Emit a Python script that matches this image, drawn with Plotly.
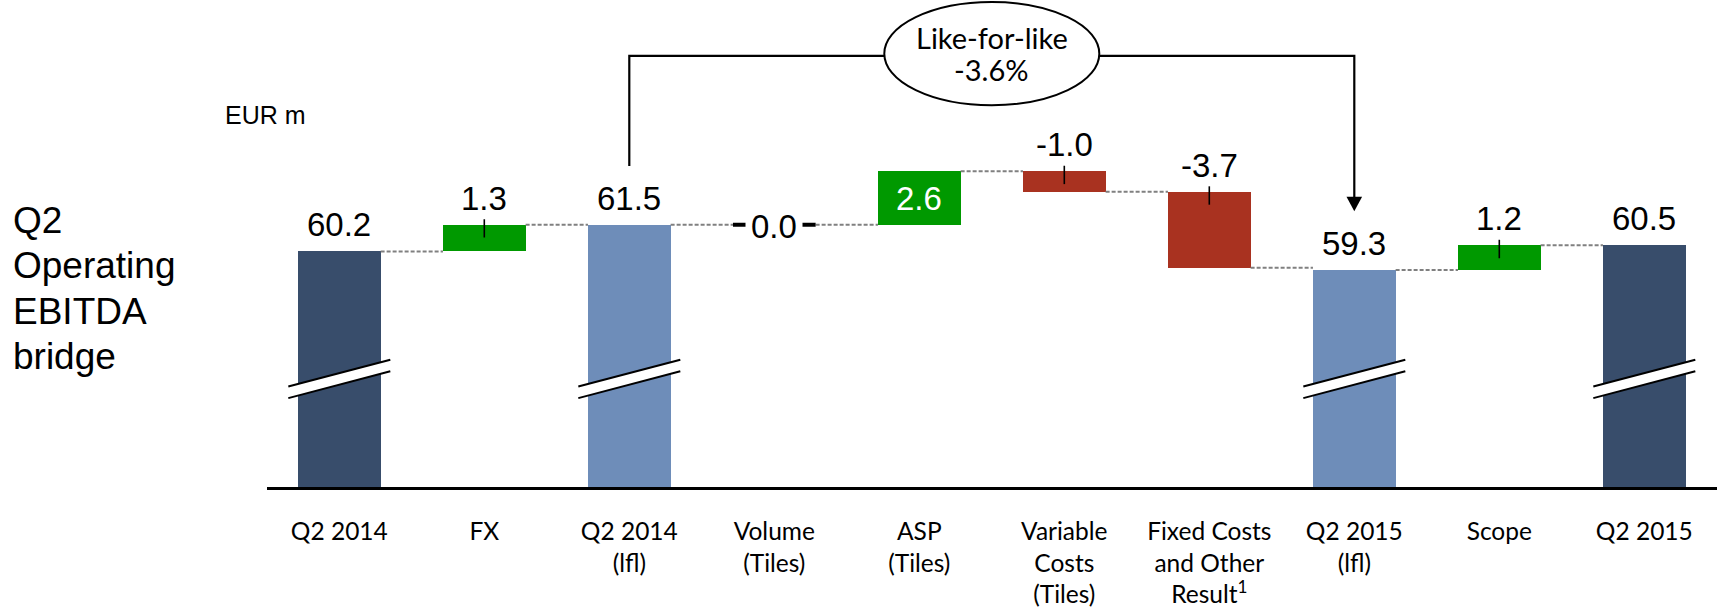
import plotly.graph_objects as go

# ---- data -------------------------------------------------------------
categories = [
    "Q2 2014", "FX", "Q2 2014<br>(lfl)", "Volume<br>(Tiles)", "ASP<br>(Tiles)",
    "Variable<br>Costs<br>(Tiles)", "Fixed Costs<br>and Other<br>Result<sup>1</sup>",
    "Q2 2015<br>(lfl)", "Scope", "Q2 2015",
]
values = [60.2, 1.3, 61.5, 0.0, 2.6, -1.0, -3.7, 59.3, 1.2, 60.5]
kinds = ["total", "delta", "lfl", "delta", "delta", "delta", "delta", "lfl", "delta", "total"]
lfl_change_pct = -3.6
unit_label = "EUR m"
title_lines = ["Q2", "Operating", "EBITDA", "bridge"]
bracket_label = "Like-for-like"

# ---- layout constants -------------------------------------------------
W, H = 1718, 608
PLOT_L, PLOT_R = 266.8, 1716.8        # px extent of the category axis
AXIS_Y = 490.5                         # px row of the category axis line
Y_MIN = 48.73                          # broken value axis starts here
PX_PER_UNIT = 20.7
Y_MAX = Y_MIN + AXIS_Y / PX_PER_UNIT
BAR_W = 0.57
HW = BAR_W / 2
CAT_PX = (PLOT_R - PLOT_L) / len(categories)

COL_TOTAL = "#384D6B"
COL_LFL = "#6E8DB9"
COL_POS = "#009900"
COL_NEG = "#A93220"

VAL_FONT = dict(family="Arial, Liberation Sans, sans-serif", size=33, color="black")
CAT_FONT = dict(family="Lato, Open Sans, sans-serif", size=24.5, color="black")


def px(x):
    return x / W


def py(y):
    return 1 - y / H


def units(pixels):
    return pixels / PX_PER_UNIT


# ---- waterfall geometry ----------------------------------------------
bases, heights, colors, label_levels, end_levels = [], [], [], [], []
level = 0.0
for v, k in zip(values, kinds):
    if k in ("total", "lfl"):
        bases.append(0.0)
        heights.append(v)
        colors.append(COL_TOTAL if k == "total" else COL_LFL)
        label_levels.append(v)
        level = v
    else:
        bases.append(level)
        heights.append(v)
        colors.append(COL_POS if v >= 0 else COL_NEG)
        label_levels.append(max(level, level + v))
        level = level + v
    end_levels.append(level)

idx = list(range(len(categories)))

fig = go.Figure()

fig.add_trace(go.Bar(
    x=idx, y=heights, base=bases, width=BAR_W,
    marker=dict(color=colors, line=dict(width=0)),
    hoverinfo="skip", showlegend=False,
))

# dashed connectors between neighbouring bars
cx, cy = [], []
for i in range(len(categories) - 1):
    cx += [i + HW, i + 1 - HW, None]
    cy += [end_levels[i], end_levels[i], None]
fig.add_trace(go.Scatter(
    x=cx, y=cy, mode="lines",
    line=dict(color="#808080", width=2, dash="4px,2px"),
    hoverinfo="skip", showlegend=False,
))

shapes = []
annotations = []

# labels, leader ticks and zero markers
tx, ty = [], []
for i, (v, k) in enumerate(zip(values, kinds)):
    text = f"{v:.1f}"
    if k == "delta" and v == 0:
        shapes.append(dict(type="line", xref="x", yref="y",
                           x0=i - HW, x1=i + HW, y0=bases[i], y1=bases[i],
                           line=dict(color="black", width=4), layer="above"))
        annotations.append(dict(x=i, y=bases[i], xref="x", yref="y", text=text,
                                showarrow=False, yanchor="middle", yshift=-2,
                                bgcolor="white", borderpad=5, font=VAL_FONT))
    elif k == "delta" and v >= 2.0:
        annotations.append(dict(x=i, y=bases[i] + v / 2, xref="x", yref="y", text=text,
                                showarrow=False, yanchor="middle", yshift=-1,
                                font=dict(VAL_FONT, color="white")))
    else:
        annotations.append(dict(x=i, y=label_levels[i], xref="x", yref="y", text=text,
                                showarrow=False, yanchor="bottom", yshift=6,
                                font=VAL_FONT))
        if k == "delta":
            top = label_levels[i]
            tx += [i, i, None]
            ty += [top + units(5.5), top - units(13), None]

fig.add_trace(go.Scatter(
    x=tx, y=ty, mode="lines", line=dict(color="black", width=1.6),
    hoverinfo="skip", showlegend=False,
))

# axis-break marks on the full bars
BREAK_Y = 54.0
bdx = 51 / CAT_PX
rise = units(13.5)
gap = units(5.85)
for i, k in enumerate(kinds):
    if k not in ("total", "lfl"):
        continue
    x0, x1 = i - bdx, i + bdx
    shapes.append(dict(
        type="path", xref="x", yref="y", layer="above",
        path=(f"M {x0},{BREAK_Y - gap - rise} L {x1},{BREAK_Y - gap + rise} "
              f"L {x1},{BREAK_Y + gap + rise} L {x0},{BREAK_Y + gap - rise} Z"),
        fillcolor="white", line=dict(width=0),
    ))
    for s in (-1, 1):
        shapes.append(dict(
            type="line", xref="x", yref="y", layer="above",
            x0=x0, y0=BREAK_Y + s * gap - rise, x1=x1, y1=BREAK_Y + s * gap + rise,
            line=dict(color="black", width=2),
        ))

# like-for-like bracket from Q2 2014 (lfl) to Q2 2015 (lfl)
i_from = kinds.index("lfl")
i_to = len(kinds) - 1 - kinds[::-1].index("lfl")
BRACKET_Y = 56.2
shapes.append(dict(
    type="path", xref="x", yref="paper", layer="above",
    path=(f"M {i_from},{py(167)} L {i_from},{py(BRACKET_Y)} "
          f"L {i_to},{py(BRACKET_Y)} L {i_to},{py(200)}"),
    line=dict(color="black", width=2.2),
))
head = 7.8 / CAT_PX
shapes.append(dict(
    type="path", xref="x", yref="paper", layer="above",
    path=(f"M {i_to - head},{py(198)} L {i_to + head},{py(198)} "
          f"L {i_to},{py(212.7)} Z"),
    fillcolor="black", line=dict(width=0),
))
ell_c = 4.5
ell_hw = 107.5 / CAT_PX
shapes.append(dict(
    type="circle", xref="x", yref="paper", layer="above",
    x0=ell_c - ell_hw, x1=ell_c + ell_hw, y0=py(106), y1=py(2),
    fillcolor="white", line=dict(color="black", width=2),
))
ELL_FONT = dict(family="Lato, Open Sans, sans-serif", size=29, color="black")
annotations.append(dict(x=ell_c, y=py(57.5), xref="x", yref="paper",
                        text=bracket_label, showarrow=False, yanchor="bottom",
                        font=ELL_FONT))
annotations.append(dict(x=ell_c, y=py(89.9), xref="x", yref="paper",
                        text=f"{lfl_change_pct:.1f}%", showarrow=False, yanchor="bottom",
                        font=ELL_FONT))

# unit and side title
annotations.append(dict(x=px(223), y=py(132.3), xref="paper", yref="paper",
                        text=unit_label, showarrow=False, xanchor="left", yanchor="bottom",
                        font=dict(family="Arial, Liberation Sans, sans-serif", size=25,
                                  color="black")))
for n, line in enumerate(title_lines):
    annotations.append(dict(x=px(11), y=py(244.8 + 45.5 * n), xref="paper", yref="paper",
                            text=line, showarrow=False, xanchor="left", yanchor="bottom",
                            font=dict(family="Arial, Liberation Sans, sans-serif", size=37,
                                      color="black")))

fig.update_layout(
    width=W, height=H,
    margin=dict(l=0, r=0, t=0, b=0),
    paper_bgcolor="white", plot_bgcolor="white",
    bargap=0, showlegend=False,
    shapes=shapes, annotations=annotations,
    xaxis=dict(
        domain=[px(PLOT_L), px(PLOT_R)], range=[-0.5, len(categories) - 0.5],
        tickmode="array", tickvals=idx, ticktext=categories, tickfont=CAT_FONT,
        ticks="", showgrid=False, zeroline=False,
        showline=True, linecolor="black", linewidth=3,
        ticklabelstandoff=20, fixedrange=True,
    ),
    yaxis=dict(
        domain=[1 - AXIS_Y / H, 1], range=[Y_MIN, Y_MAX],
        showticklabels=False, showgrid=False, zeroline=False, showline=False,
        ticks="", fixedrange=True,
    ),
)

fig.write_html("out.html", config={"displayModeBar": False})
